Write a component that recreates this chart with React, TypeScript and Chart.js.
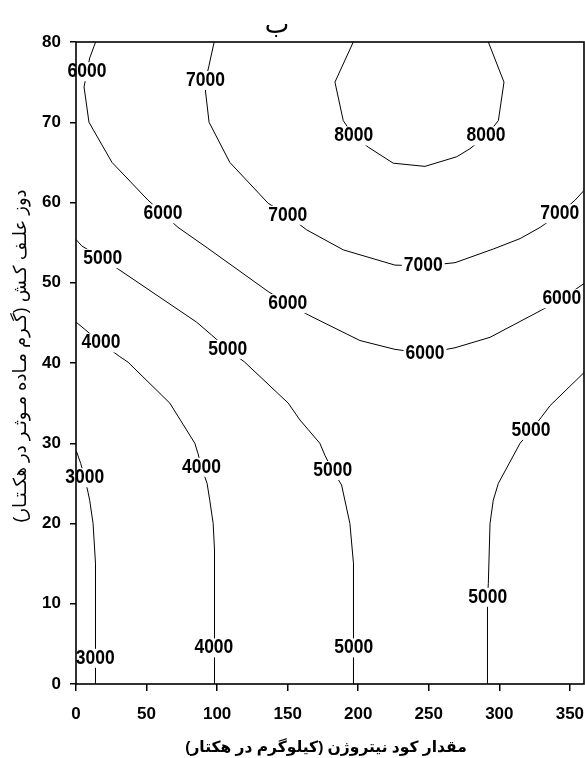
import React, { useEffect, useRef } from "react";
import { Chart, registerables } from "chart.js";

Chart.register(...registerables);

// Axis ranges and ticks
const X_MIN = 0;
const X_MAX = 360;
const Y_MIN = 0;
const Y_MAX = 80;
const X_TICKS = [0, 50, 100, 150, 200, 250, 300, 350];
const Y_TICKS = [0, 10, 20, 30, 40, 50, 60, 70, 80];

// Texts
const TOP_TITLE = "ب";
const X_TITLE = "مقدار کود نیتروژن (کیلوگرم در هکتار)";
const Y_TITLE = "دوز علـف کـش (گـرم مـاده مـوثـر در هکـتـار)";

// Contour lines (x = nitrogen kg/ha, y = herbicide dose)
const C3000 = [[0.3, 29], [3.3, 27.5], [6.2, 25.7], [8.5, 23.9], [9.7, 22.9], [12.1, 20], [13.82, 15], [13.82, 3.2], [13.82, 0]];
const C4000 = [[0, 45.1], [6.2, 44.2], [17.7, 42.5], [31, 40.8], [36.9, 40.1], [66.5, 35], [84.2, 30], [86.5, 28.7], [88.9, 27], [92.9, 25], [94.8, 22.9], [97.2, 20], [98.15, 16.7], [98.15, 4.5], [98.15, 0]];
const C5000_LEFT = [[0, 55.4], [4, 54.6], [18.9, 53], [33.3, 51.3], [85.4, 45.1], [96, 43.5], [107.6, 41.7], [119.6, 40.1], [150.4, 35], [158.7, 32.9], [172.8, 30], [176.4, 28.5], [181.9, 26.6], [188.2, 24.8], [194.1, 20], [196.65, 15], [196.65, 4.5], [196.65, 0]];
const C5000_RIGHT = [[291.6, 0], [291.6, 10.8], [292.2, 12.5], [293.4, 20], [295.7, 22.9], [299.3, 25], [314.7, 30], [322.5, 31.6], [330, 33.3], [336, 34.7], [360, 38.8]];
const C6000 = [[13.9, 80], [9.7, 78], [7.8, 76.3], [5.7, 74.4], [9.2, 70], [25.5, 65], [51, 60.3], [61.7, 58.6], [72.3, 56.9], [93.4, 54.3], [136.2, 48.9], [150.1, 47.4], [164.5, 46], [201.2, 42.8], [226, 41.7], [247.3, 41.2], [268.6, 41.9], [293.4, 43.2], [330, 46.6], [344.3, 48], [360, 49.9]];
const C7000 = [[97.9, 80], [94.3, 77.1], [91.8, 75.2], [91.8, 73.8], [94.3, 70], [109, 65], [136.2, 59.9], [150, 58.4], [163.4, 56.6], [189.4, 54.1], [226, 52.2], [246.1, 52.1], [268.6, 52.5], [295.7, 54.2], [314.7, 55.5], [328.9, 56.9], [342.8, 58.6], [353.7, 60.3], [360, 61.5]];
const C8000 = [[196.5, 80], [183.5, 75], [189.4, 70.2], [196.8, 68.3], [207.1, 66.9], [224.8, 64.9], [247.3, 64.5], [269.8, 65.7], [279.2, 66.7], [290.6, 68.3], [299.3, 70.2], [303.3, 75], [292.2, 80]];
const CONTOURS = [C3000, C4000, C5000_LEFT, C5000_RIGHT, C6000, C7000, C8000];

// Contour labels
const LABEL_TEXT = ["3000", "3000", "4000", "4000", "4000", "5000", "5000", "5000", "5000", "5000", "5000", "6000", "6000", "6000", "6000", "6000", "7000", "7000", "7000", "7000", "8000", "8000"];
const LABEL_X = [6.2, 13.6, 17.7, 88.9, 97.7, 18.9, 107.6, 181.9, 196.8, 291.8, 322.5, 7.8, 61.7, 150.1, 247.3, 344.3, 91.8, 150, 246.1, 342.8, 196.8, 290.6];
const LABEL_Y = [25.7, 3.2, 42.5, 27.0, 4.5, 53.0, 41.7, 26.6, 4.5, 10.8, 31.6, 76.3, 58.6, 47.4, 41.2, 48.0, 75.2, 58.4, 52.1, 58.6, 68.3, 68.3];

const FONT = '"Liberation Sans", Arial, "DejaVu Sans", sans-serif';

const overlayPlugin = {
  id: "overlay",
  afterDatasetsDraw(chart: any) {
    const ctx = chart.ctx;
    const area = chart.chartArea;
    const xs = chart.scales.x;
    const ys = chart.scales.y;
    ctx.save();
    ctx.font = `bold 17.5px ${FONT}`;
    // white knockouts behind labels (inside frame only)
    ctx.save();
    ctx.beginPath();
    ctx.rect(area.left + 1.5, area.top + 1.5, area.width - 3, area.height - 3);
    ctx.clip();
    ctx.fillStyle = "#ffffff";
    LABEL_TEXT.forEach((t, i) => {
      const px = xs.getPixelForValue(LABEL_X[i]);
      const py = ys.getPixelForValue(LABEL_Y[i]);
      const w = ctx.measureText(t).width;
      ctx.fillRect(px - w / 2 - 2, py - 9.5, w + 4, 19);
    });
    ctx.restore();
    // frame
    ctx.strokeStyle = "#000";
    ctx.lineWidth = 1.6;
    ctx.strokeRect(area.left, area.top, area.width, area.height);
    // label text
    ctx.fillStyle = "#000";
    ctx.textAlign = "center";
    ctx.textBaseline = "middle";
    LABEL_TEXT.forEach((t, i) => {
      const px = xs.getPixelForValue(LABEL_X[i]);
      const py = ys.getPixelForValue(LABEL_Y[i]);
      ctx.save();
      ctx.translate(px, py);
      ctx.scale(1, 1.15);
      ctx.fillText(t, 0, 0);
      ctx.restore();
    });
    // titles
    ctx.direction = "rtl";
    ctx.textAlign = "center";
    ctx.font = `bold 15.5px ${FONT}`;
    ctx.fillText(X_TITLE, (area.left + area.right) / 2 - 4, 748);
    ctx.font = `26px ${FONT}`;
    ctx.fillText(TOP_TITLE, 277, 26);
    ctx.save();
    ctx.translate(21, 356);
    ctx.rotate(-Math.PI / 2);
    ctx.font = `18px ${FONT}`;
    ctx.fillText(Y_TITLE, 0, 0);
    ctx.restore();
    ctx.restore();
  },
};

export default function App() {
  const ref = useRef<HTMLCanvasElement | null>(null);
  useEffect(() => {
    if (!ref.current) return;
    const chart = new Chart(ref.current, {
      type: "scatter",
      data: {
        datasets: CONTOURS.map((c) => ({
          data: c.map(([x, y]) => ({ x, y })),
          showLine: true,
          borderColor: "#000",
          borderWidth: 1,
          pointRadius: 0,
          tension: 0,
          fill: false,
        })),
      },
      options: {
        animation: false,
        responsive: false,
        devicePixelRatio: 1,
        layout: { padding: { top: 42, right: 1, left: 0, bottom: 0 } },
        plugins: { legend: { display: false }, tooltip: { enabled: false } },
        scales: {
          x: {
            type: "linear",
            min: X_MIN,
            max: X_MAX,
            afterBuildTicks: (s: any) => {
              s.ticks = X_TICKS.map((v) => ({ value: v }));
            },
            afterFit: (s: any) => {
              s.height = 74;
              s.paddingRight = 0;
              s.paddingLeft = 0;
            },
            border: { display: false },
            grid: { display: true, drawOnChartArea: false, drawTicks: true, tickLength: 7, color: "#000", lineWidth: 1.5 },
            ticks: { color: "#000", padding: 13, maxRotation: 0, autoSkip: false, font: { family: FONT, size: 17, weight: "bold" } },
          },
          y: {
            type: "linear",
            min: Y_MIN,
            max: Y_MAX,
            afterBuildTicks: (s: any) => {
              s.ticks = Y_TICKS.map((v) => ({ value: v }));
            },
            afterFit: (s: any) => {
              s.width = 76;
              s.paddingTop = 0;
              s.paddingBottom = 0;
            },
            border: { display: false },
            grid: { display: true, drawOnChartArea: false, drawTicks: true, tickLength: 6, color: "#000", lineWidth: 1.5 },
            ticks: { color: "#000", padding: 9, autoSkip: false, font: { family: FONT, size: 17, weight: "bold" } },
          },
        },
      },
      plugins: [overlayPlugin],
    } as any);
    return () => chart.destroy();
  }, []);
  return (
    <div style={{ position: "fixed", left: 0, top: 0, width: 585, height: 758, background: "#fff" }}>
      <canvas ref={ref} width={585} height={758} style={{ width: 585, height: 758, display: "block" }} />
    </div>
  );
}
